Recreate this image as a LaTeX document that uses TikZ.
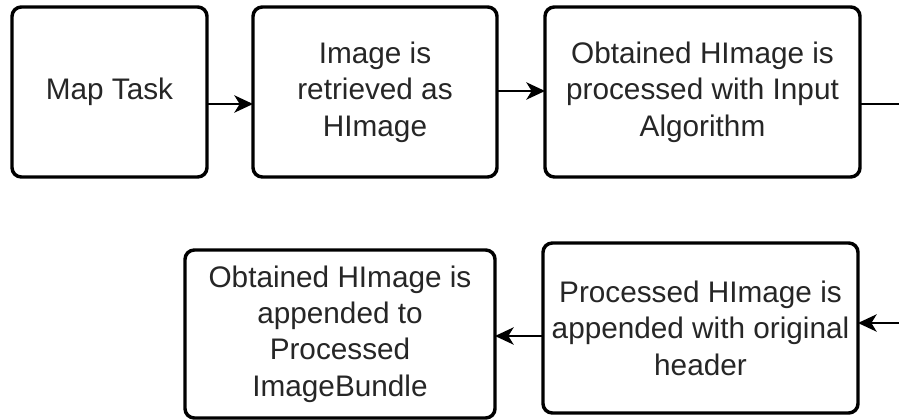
\documentclass[tikz,border=0pt]{standalone}
\usepackage{fontspec}
\setmainfont{Liberation Sans}
\usetikzlibrary{arrows.meta}
\begin{document}
\begin{tikzpicture}[x=0.75pt,y=-0.75pt,
  box/.style={draw=black, line width=2.6pt, rounded corners=7pt, fill=white,
    inner sep=0pt, outer sep=0pt, align=center,
    font=\fontsize{22.3pt}{27.3pt}\selectfont, text=black!85},
  conn/.style={line width=1.6pt, -{Stealth[length=14pt,width=13pt,inset=4pt]}},
  plain/.style={line width=1.6pt}]
\useasboundingbox (0,0) rectangle (899,420);
\node[box, minimum width=146.25pt, minimum height=127.5pt] (b1) at (109.5,92) {Map Task};
\node[box, minimum width=183pt, minimum height=127.5pt] (b2) at (375,92) {Image is\\retrieved as\\HImage};
\node[box, minimum width=236.25pt, minimum height=127.5pt] (b3) at (702.5,92) {Obtained HImage is\\processed with Input\\Algorithm};
\node[box, minimum width=232.5pt, minimum height=126pt] (b4) at (340,334) {Obtained HImage is\\appended to\\Processed\\ImageBundle};
\node[box, minimum width=236.25pt, minimum height=127.5pt] (b5) at (700.5,328) {Processed HImage is\\appended with original\\header};
\coordinate (e1) at (899,104);
\coordinate (e2) at (899,323);
\draw[conn] (b1.east |- 0,104) -- (b2.west |- 0,104);
\draw[conn] (b2.east |- 0,91) -- (b3.west |- 0,91);
\draw[plain] (b3.east |- e1) -- (e1);
\draw[conn] (e2) -- (b5.east |- e2);
\draw[conn] (b5.west |- 0,336) -- (b4.east |- 0,336);
\end{tikzpicture}
\end{document}
